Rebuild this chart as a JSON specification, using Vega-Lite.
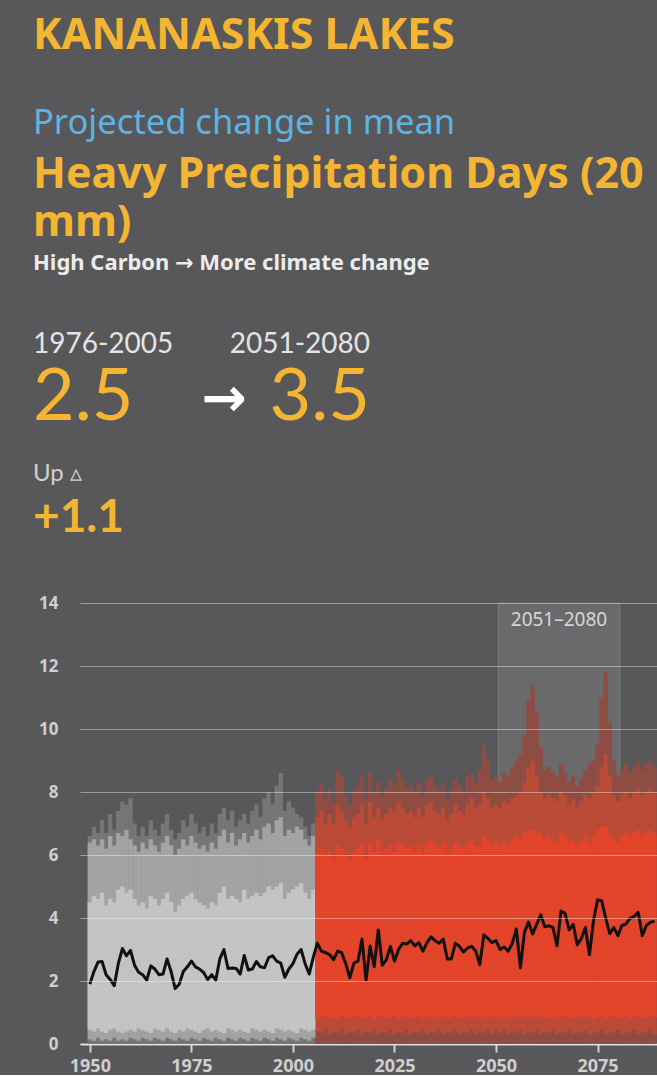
{
  "$schema": "https://vega.github.io/schema/vega-lite/v6.json",
  "background": "#58585a",
  "padding": {"left": 33, "top": 14, "right": 0, "bottom": 0},
  "config": {"view": {"stroke": null}, "font": "Noto Sans"},
  "title": {
    "text": "KANANASKIS LAKES",
    "subtitle": "Projected change in mean",
    "anchor": "start", "frame": "bounds", "orient": "top",
    "font": "Noto Sans", "fontSize": 43, "fontWeight": "bold", "color": "#f4b532",
    "subtitleFont": "Noto Sans", "subtitleFontSize": 34.5, "subtitleFontWeight": "normal", "subtitleColor": "#5cb4e4",
    "subtitlePadding": 49, "offset": 14
  },
  "spacing": 28,
  "vconcat": [
    {
      "width": 290, "height": 67,
      "title": {
        "text": ["Heavy Precipitation Days (20", "mm)"],
        "subtitle": "High Carbon → More climate change",
        "anchor": "start", "frame": "bounds", "orient": "top",
        "font": "Noto Sans", "fontSize": 43, "lineHeight": 48, "fontWeight": "bold", "color": "#f4b532",
        "subtitleFont": "Noto Sans, DejaVu Sans", "subtitleFontSize": 22, "subtitleFontWeight": "bold", "subtitleColor": "#ececec",
        "subtitlePadding": 8, "offset": 57
      },
      "data": {"values": [
        {"col": "historical", "period": "1976-2005", "value": "2.5"},
        {"col": "projected", "period": "2051-2080", "value": "3.5"}
      ]},
      "layer": [
        {
          "transform": [{"filter": "datum.col === 'historical'"}],
          "mark": {"type": "text", "align": "left", "baseline": "alphabetic", "font": "Lato", "fontSize": 28, "color": "#e4e4e4"},
          "encoding": {
            "x": {"field": "col", "type": "nominal", "scale": {"type": "point", "domain": ["historical", "arrow", "projected"], "range": [-47, 290], "padding": 0}, "axis": null},
            "y": {"datum": "period", "type": "nominal", "scale": {"type": "point", "domain": ["period", "value"], "range": [0, 67], "padding": 0}, "axis": null},
            "text": {"field": "period"}
          }
        },
        {
          "transform": [{"filter": "datum.col === 'projected'"}],
          "mark": {"type": "text", "align": "right", "baseline": "alphabetic", "font": "Lato", "fontSize": 28, "color": "#e4e4e4"},
          "encoding": {
            "x": {"field": "col", "type": "nominal"},
            "y": {"datum": "period", "type": "nominal"},
            "text": {"field": "period"}
          }
        },
        {
          "transform": [{"filter": "datum.col === 'historical'"}],
          "mark": {"type": "text", "align": "left", "baseline": "alphabetic", "font": "Lato", "fontSize": 72, "color": "#f4b532"},
          "encoding": {
            "x": {"field": "col", "type": "nominal"},
            "y": {"datum": "value", "type": "nominal"},
            "text": {"field": "value"}
          }
        },
        {
          "transform": [{"filter": "datum.col === 'projected'"}],
          "mark": {"type": "text", "align": "right", "baseline": "alphabetic", "font": "Lato", "fontSize": 72, "color": "#f4b532"},
          "encoding": {
            "x": {"field": "col", "type": "nominal"},
            "y": {"datum": "value", "type": "nominal"},
            "text": {"field": "value"}
          }
        },
        {
          "data": {"values": [{"col": "arrow", "symbol": "→"}]},
          "mark": {"type": "text", "align": "left", "baseline": "alphabetic", "font": "DejaVu Sans", "fontSize": 54, "fontWeight": "bold", "color": "#ffffff", "dy": -4},
          "encoding": {
            "x": {"field": "col", "type": "nominal"},
            "y": {"datum": "value", "type": "nominal"},
            "text": {"field": "symbol"}
          }
        }
      ]
    },
    {
      "width": 577, "height": 441,
      "title": {
        "text": "Up ▵",
        "subtitle": "+1.1",
        "anchor": "start", "frame": "bounds", "orient": "top",
        "font": "Lato", "fontSize": 24, "fontWeight": "normal", "color": "#cfcfcf",
        "subtitleFont": "Lato", "subtitleFontSize": 46, "subtitleFontWeight": "bold", "subtitleColor": "#f4b532",
        "subtitlePadding": 10, "offset": 53
      },
      "data": {"values": [
        {"year":1950,"scenario":"historical","mean":1.90,"lo2":0.15,"lo":0.45,"hi":4.5,"hi2":6.4,"max":6.6},
        {"year":1951,"scenario":"historical","mean":2.30,"lo2":0.10,"lo":0.40,"hi":4.7,"hi2":6.5,"max":6.9},
        {"year":1952,"scenario":"historical","mean":2.60,"lo2":0.20,"lo":0.50,"hi":4.6,"hi2":6.3,"max":6.7},
        {"year":1953,"scenario":"historical","mean":2.62,"lo2":0.10,"lo":0.40,"hi":4.8,"hi2":6.5,"max":7.1},
        {"year":1954,"scenario":"historical","mean":2.20,"lo2":0.15,"lo":0.35,"hi":4.4,"hi2":6.2,"max":6.7},
        {"year":1955,"scenario":"historical","mean":2.05,"lo2":0.10,"lo":0.45,"hi":4.6,"hi2":6.6,"max":7.3},
        {"year":1956,"scenario":"historical","mean":1.85,"lo2":0.20,"lo":0.50,"hi":4.5,"hi2":6.3,"max":6.8},
        {"year":1957,"scenario":"historical","mean":2.55,"lo2":0.10,"lo":0.40,"hi":4.9,"hi2":6.7,"max":7.4},
        {"year":1958,"scenario":"historical","mean":3.03,"lo2":0.15,"lo":0.35,"hi":5.0,"hi2":6.6,"max":7.7},
        {"year":1959,"scenario":"historical","mean":2.80,"lo2":0.10,"lo":0.40,"hi":4.8,"hi2":6.8,"max":7.6},
        {"year":1960,"scenario":"historical","mean":2.97,"lo2":0.20,"lo":0.45,"hi":4.9,"hi2":6.5,"max":7.8},
        {"year":1961,"scenario":"historical","mean":2.50,"lo2":0.15,"lo":0.40,"hi":4.6,"hi2":6.3,"max":7.0},
        {"year":1962,"scenario":"historical","mean":2.28,"lo2":0.10,"lo":0.50,"hi":4.4,"hi2":6.1,"max":6.6},
        {"year":1963,"scenario":"historical","mean":2.20,"lo2":0.20,"lo":0.45,"hi":4.5,"hi2":6.4,"max":6.9},
        {"year":1964,"scenario":"historical","mean":2.03,"lo2":0.15,"lo":0.40,"hi":4.3,"hi2":6.2,"max":6.6},
        {"year":1965,"scenario":"historical","mean":2.48,"lo2":0.10,"lo":0.35,"hi":4.7,"hi2":6.5,"max":7.1},
        {"year":1966,"scenario":"historical","mean":2.38,"lo2":0.20,"lo":0.50,"hi":4.6,"hi2":6.3,"max":6.8},
        {"year":1967,"scenario":"historical","mean":2.20,"lo2":0.15,"lo":0.45,"hi":4.4,"hi2":6.1,"max":6.6},
        {"year":1968,"scenario":"historical","mean":2.22,"lo2":0.10,"lo":0.40,"hi":4.6,"hi2":6.4,"max":7.0},
        {"year":1969,"scenario":"historical","mean":2.70,"lo2":0.20,"lo":0.50,"hi":4.8,"hi2":6.6,"max":7.3},
        {"year":1970,"scenario":"historical","mean":2.30,"lo2":0.15,"lo":0.40,"hi":4.5,"hi2":6.3,"max":6.8},
        {"year":1971,"scenario":"historical","mean":1.76,"lo2":0.10,"lo":0.35,"hi":4.2,"hi2":6.0,"max":6.5},
        {"year":1972,"scenario":"historical","mean":1.90,"lo2":0.20,"lo":0.45,"hi":4.4,"hi2":6.2,"max":6.7},
        {"year":1973,"scenario":"historical","mean":2.30,"lo2":0.15,"lo":0.40,"hi":4.6,"hi2":6.5,"max":7.1},
        {"year":1974,"scenario":"historical","mean":2.45,"lo2":0.10,"lo":0.50,"hi":4.7,"hi2":6.3,"max":6.9},
        {"year":1975,"scenario":"historical","mean":2.63,"lo2":0.20,"lo":0.45,"hi":4.8,"hi2":6.6,"max":7.3},
        {"year":1976,"scenario":"historical","mean":2.45,"lo2":0.15,"lo":0.40,"hi":4.6,"hi2":6.4,"max":7.0},
        {"year":1977,"scenario":"historical","mean":2.38,"lo2":0.10,"lo":0.35,"hi":4.5,"hi2":6.2,"max":6.7},
        {"year":1978,"scenario":"historical","mean":2.27,"lo2":0.20,"lo":0.45,"hi":4.4,"hi2":6.3,"max":6.9},
        {"year":1979,"scenario":"historical","mean":2.05,"lo2":0.15,"lo":0.50,"hi":4.3,"hi2":6.1,"max":6.6},
        {"year":1980,"scenario":"historical","mean":2.20,"lo2":0.10,"lo":0.40,"hi":4.5,"hi2":6.4,"max":7.0},
        {"year":1981,"scenario":"historical","mean":2.03,"lo2":0.20,"lo":0.45,"hi":4.4,"hi2":6.2,"max":6.7},
        {"year":1982,"scenario":"historical","mean":2.70,"lo2":0.15,"lo":0.40,"hi":4.8,"hi2":6.6,"max":7.3},
        {"year":1983,"scenario":"historical","mean":3.00,"lo2":0.10,"lo":0.35,"hi":5.0,"hi2":6.8,"max":7.5},
        {"year":1984,"scenario":"historical","mean":2.40,"lo2":0.20,"lo":0.50,"hi":4.6,"hi2":6.4,"max":7.1},
        {"year":1985,"scenario":"historical","mean":2.41,"lo2":0.15,"lo":0.45,"hi":4.7,"hi2":6.7,"max":7.4},
        {"year":1986,"scenario":"historical","mean":2.40,"lo2":0.10,"lo":0.40,"hi":4.6,"hi2":6.3,"max":6.9},
        {"year":1987,"scenario":"historical","mean":2.22,"lo2":0.20,"lo":0.45,"hi":4.5,"hi2":6.5,"max":7.1},
        {"year":1988,"scenario":"historical","mean":2.81,"lo2":0.15,"lo":0.40,"hi":4.9,"hi2":6.7,"max":7.3},
        {"year":1989,"scenario":"historical","mean":2.35,"lo2":0.10,"lo":0.35,"hi":4.6,"hi2":6.4,"max":7.0},
        {"year":1990,"scenario":"historical","mean":2.38,"lo2":0.20,"lo":0.50,"hi":4.7,"hi2":6.6,"max":7.4},
        {"year":1991,"scenario":"historical","mean":2.62,"lo2":0.15,"lo":0.45,"hi":4.8,"hi2":6.8,"max":7.6},
        {"year":1992,"scenario":"historical","mean":2.45,"lo2":0.10,"lo":0.40,"hi":4.7,"hi2":6.5,"max":7.2},
        {"year":1993,"scenario":"historical","mean":2.42,"lo2":0.20,"lo":0.45,"hi":4.8,"hi2":6.9,"max":7.8},
        {"year":1994,"scenario":"historical","mean":2.74,"lo2":0.15,"lo":0.40,"hi":5.0,"hi2":7.0,"max":8.0},
        {"year":1995,"scenario":"historical","mean":2.80,"lo2":0.10,"lo":0.35,"hi":4.9,"hi2":6.7,"max":7.6},
        {"year":1996,"scenario":"historical","mean":2.63,"lo2":0.20,"lo":0.50,"hi":5.0,"hi2":7.1,"max":8.2},
        {"year":1997,"scenario":"historical","mean":2.57,"lo2":0.15,"lo":0.45,"hi":5.1,"hi2":7.2,"max":8.6},
        {"year":1998,"scenario":"historical","mean":2.12,"lo2":0.10,"lo":0.40,"hi":4.6,"hi2":6.6,"max":7.4},
        {"year":1999,"scenario":"historical","mean":2.38,"lo2":0.20,"lo":0.45,"hi":4.8,"hi2":6.8,"max":7.7},
        {"year":2000,"scenario":"historical","mean":2.55,"lo2":0.15,"lo":0.40,"hi":4.9,"hi2":6.7,"max":7.5},
        {"year":2001,"scenario":"historical","mean":2.85,"lo2":0.10,"lo":0.35,"hi":5.0,"hi2":6.9,"max":7.3},
        {"year":2002,"scenario":"historical","mean":3.00,"lo2":0.20,"lo":0.50,"hi":5.1,"hi2":6.8,"max":7.2},
        {"year":2003,"scenario":"historical","mean":2.55,"lo2":0.15,"lo":0.45,"hi":4.8,"hi2":6.5,"max":6.9},
        {"year":2004,"scenario":"historical","mean":2.22,"lo2":0.10,"lo":0.40,"hi":4.6,"hi2":6.3,"max":6.6},
        {"year":2005,"scenario":"historical","mean":2.75,"lo2":0.20,"lo":0.45,"hi":4.9,"hi2":6.6,"max":7.0},
        {"year":2006,"scenario":"projected","mean":3.20,"lo2":0.40,"lo":0.80,"hi":6.1,"hi2":7.2,"max":8.0},
        {"year":2007,"scenario":"projected","mean":2.95,"lo2":0.35,"lo":0.85,"hi":6.2,"hi2":7.4,"max":8.3},
        {"year":2008,"scenario":"projected","mean":2.90,"lo2":0.45,"lo":0.90,"hi":6.0,"hi2":7.0,"max":7.8},
        {"year":2009,"scenario":"projected","mean":2.84,"lo2":0.30,"lo":0.80,"hi":6.1,"hi2":7.3,"max":8.1},
        {"year":2010,"scenario":"projected","mean":2.68,"lo2":0.40,"lo":0.85,"hi":5.9,"hi2":7.0,"max":7.7},
        {"year":2011,"scenario":"projected","mean":2.95,"lo2":0.35,"lo":0.80,"hi":6.3,"hi2":7.6,"max":8.7},
        {"year":2012,"scenario":"projected","mean":2.90,"lo2":0.45,"lo":0.90,"hi":6.2,"hi2":7.4,"max":8.5},
        {"year":2013,"scenario":"projected","mean":2.55,"lo2":0.30,"lo":0.85,"hi":6.0,"hi2":7.1,"max":7.9},
        {"year":2014,"scenario":"projected","mean":2.10,"lo2":0.40,"lo":0.80,"hi":5.8,"hi2":6.9,"max":7.6},
        {"year":2015,"scenario":"projected","mean":2.57,"lo2":0.35,"lo":0.90,"hi":6.1,"hi2":7.2,"max":8.0},
        {"year":2016,"scenario":"projected","mean":2.63,"lo2":0.45,"lo":0.85,"hi":6.2,"hi2":7.3,"max":8.2},
        {"year":2017,"scenario":"projected","mean":3.33,"lo2":0.30,"lo":0.80,"hi":6.4,"hi2":7.6,"max":8.5},
        {"year":2018,"scenario":"projected","mean":2.03,"lo2":0.40,"lo":0.85,"hi":5.9,"hi2":7.0,"max":7.8},
        {"year":2019,"scenario":"projected","mean":3.11,"lo2":0.35,"lo":0.90,"hi":6.4,"hi2":7.7,"max":8.6},
        {"year":2020,"scenario":"projected","mean":2.45,"lo2":0.45,"lo":0.80,"hi":6.1,"hi2":7.2,"max":8.0},
        {"year":2021,"scenario":"projected","mean":3.62,"lo2":0.30,"lo":0.85,"hi":6.5,"hi2":7.5,"max":8.3},
        {"year":2022,"scenario":"projected","mean":2.50,"lo2":0.40,"lo":0.90,"hi":6.0,"hi2":7.1,"max":7.9},
        {"year":2023,"scenario":"projected","mean":2.68,"lo2":0.35,"lo":0.80,"hi":6.2,"hi2":7.3,"max":8.1},
        {"year":2024,"scenario":"projected","mean":3.10,"lo2":0.45,"lo":0.85,"hi":6.3,"hi2":7.5,"max":8.4},
        {"year":2025,"scenario":"projected","mean":2.63,"lo2":0.30,"lo":0.90,"hi":6.1,"hi2":7.4,"max":8.2},
        {"year":2026,"scenario":"projected","mean":3.00,"lo2":0.40,"lo":0.80,"hi":6.4,"hi2":7.7,"max":8.7},
        {"year":2027,"scenario":"projected","mean":3.20,"lo2":0.35,"lo":0.85,"hi":6.3,"hi2":7.5,"max":8.4},
        {"year":2028,"scenario":"projected","mean":3.17,"lo2":0.45,"lo":0.90,"hi":6.2,"hi2":7.3,"max":8.1},
        {"year":2029,"scenario":"projected","mean":3.28,"lo2":0.30,"lo":0.80,"hi":6.3,"hi2":7.4,"max":8.2},
        {"year":2030,"scenario":"projected","mean":3.12,"lo2":0.40,"lo":0.85,"hi":6.1,"hi2":7.2,"max":8.0},
        {"year":2031,"scenario":"projected","mean":3.22,"lo2":0.35,"lo":0.90,"hi":6.3,"hi2":7.5,"max":8.3},
        {"year":2032,"scenario":"projected","mean":2.95,"lo2":0.45,"lo":0.80,"hi":6.1,"hi2":7.2,"max":7.9},
        {"year":2033,"scenario":"projected","mean":3.22,"lo2":0.30,"lo":0.85,"hi":6.4,"hi2":7.6,"max":8.4},
        {"year":2034,"scenario":"projected","mean":3.40,"lo2":0.40,"lo":0.90,"hi":6.5,"hi2":7.7,"max":8.5},
        {"year":2035,"scenario":"projected","mean":3.28,"lo2":0.35,"lo":0.80,"hi":6.3,"hi2":7.4,"max":8.2},
        {"year":2036,"scenario":"projected","mean":3.20,"lo2":0.45,"lo":0.85,"hi":6.2,"hi2":7.3,"max":8.0},
        {"year":2037,"scenario":"projected","mean":3.33,"lo2":0.30,"lo":0.90,"hi":6.4,"hi2":7.5,"max":8.3},
        {"year":2038,"scenario":"projected","mean":2.70,"lo2":0.40,"lo":0.80,"hi":6.1,"hi2":7.1,"max":7.8},
        {"year":2039,"scenario":"projected","mean":2.70,"lo2":0.35,"lo":0.85,"hi":6.2,"hi2":7.3,"max":8.1},
        {"year":2040,"scenario":"projected","mean":3.20,"lo2":0.45,"lo":0.90,"hi":6.4,"hi2":7.6,"max":8.4},
        {"year":2041,"scenario":"projected","mean":3.10,"lo2":0.30,"lo":0.80,"hi":6.3,"hi2":7.4,"max":8.2},
        {"year":2042,"scenario":"projected","mean":2.92,"lo2":0.40,"lo":0.85,"hi":6.2,"hi2":7.3,"max":8.0},
        {"year":2043,"scenario":"projected","mean":3.05,"lo2":0.35,"lo":0.90,"hi":6.4,"hi2":7.6,"max":8.5},
        {"year":2044,"scenario":"projected","mean":3.10,"lo2":0.45,"lo":0.80,"hi":6.5,"hi2":7.8,"max":8.6},
        {"year":2045,"scenario":"projected","mean":2.95,"lo2":0.30,"lo":0.85,"hi":6.3,"hi2":7.5,"max":8.3},
        {"year":2046,"scenario":"projected","mean":2.52,"lo2":0.40,"lo":0.90,"hi":6.3,"hi2":7.6,"max":8.7},
        {"year":2047,"scenario":"projected","mean":3.46,"lo2":0.35,"lo":0.80,"hi":6.6,"hi2":8.0,"max":9.5},
        {"year":2048,"scenario":"projected","mean":3.35,"lo2":0.45,"lo":0.85,"hi":6.5,"hi2":7.8,"max":9.0},
        {"year":2049,"scenario":"projected","mean":3.22,"lo2":0.30,"lo":0.90,"hi":6.3,"hi2":7.5,"max":8.4},
        {"year":2050,"scenario":"projected","mean":3.28,"lo2":0.40,"lo":0.80,"hi":6.4,"hi2":7.6,"max":8.5},
        {"year":2051,"scenario":"projected","mean":3.00,"lo2":0.35,"lo":0.85,"hi":6.3,"hi2":7.5,"max":8.3},
        {"year":2052,"scenario":"projected","mean":3.08,"lo2":0.45,"lo":0.90,"hi":6.4,"hi2":7.7,"max":8.6},
        {"year":2053,"scenario":"projected","mean":2.95,"lo2":0.30,"lo":0.80,"hi":6.3,"hi2":7.6,"max":8.5},
        {"year":2054,"scenario":"projected","mean":3.20,"lo2":0.40,"lo":0.85,"hi":6.5,"hi2":7.8,"max":8.8},
        {"year":2055,"scenario":"projected","mean":3.65,"lo2":0.35,"lo":0.90,"hi":6.6,"hi2":7.9,"max":9.0},
        {"year":2056,"scenario":"projected","mean":2.42,"lo2":0.45,"lo":0.80,"hi":6.5,"hi2":8.0,"max":9.2},
        {"year":2057,"scenario":"projected","mean":3.55,"lo2":0.30,"lo":0.85,"hi":6.7,"hi2":8.3,"max":9.8},
        {"year":2058,"scenario":"projected","mean":3.87,"lo2":0.40,"lo":0.90,"hi":6.8,"hi2":8.8,"max":10.9},
        {"year":2059,"scenario":"projected","mean":3.49,"lo2":0.35,"lo":0.80,"hi":6.8,"hi2":9.0,"max":11.4},
        {"year":2060,"scenario":"projected","mean":3.80,"lo2":0.45,"lo":0.85,"hi":6.7,"hi2":8.5,"max":10.5},
        {"year":2061,"scenario":"projected","mean":4.10,"lo2":0.30,"lo":0.90,"hi":6.7,"hi2":8.0,"max":9.4},
        {"year":2062,"scenario":"projected","mean":3.72,"lo2":0.40,"lo":0.80,"hi":6.5,"hi2":7.8,"max":8.7},
        {"year":2063,"scenario":"projected","mean":3.75,"lo2":0.35,"lo":0.85,"hi":6.6,"hi2":7.9,"max":8.8},
        {"year":2064,"scenario":"projected","mean":3.70,"lo2":0.45,"lo":0.90,"hi":6.5,"hi2":7.8,"max":8.6},
        {"year":2065,"scenario":"projected","mean":3.12,"lo2":0.30,"lo":0.80,"hi":6.4,"hi2":7.7,"max":8.5},
        {"year":2066,"scenario":"projected","mean":4.22,"lo2":0.40,"lo":0.85,"hi":6.7,"hi2":8.0,"max":8.9},
        {"year":2067,"scenario":"projected","mean":4.15,"lo2":0.35,"lo":0.90,"hi":6.6,"hi2":7.9,"max":8.6},
        {"year":2068,"scenario":"projected","mean":3.62,"lo2":0.45,"lo":0.80,"hi":6.4,"hi2":7.6,"max":8.3},
        {"year":2069,"scenario":"projected","mean":3.80,"lo2":0.30,"lo":0.85,"hi":6.5,"hi2":7.8,"max":8.5},
        {"year":2070,"scenario":"projected","mean":3.15,"lo2":0.40,"lo":0.90,"hi":6.3,"hi2":7.5,"max":8.2},
        {"year":2071,"scenario":"projected","mean":3.35,"lo2":0.35,"lo":0.80,"hi":6.4,"hi2":7.7,"max":8.4},
        {"year":2072,"scenario":"projected","mean":3.70,"lo2":0.45,"lo":0.85,"hi":6.6,"hi2":7.9,"max":8.7},
        {"year":2073,"scenario":"projected","mean":2.83,"lo2":0.30,"lo":0.90,"hi":6.4,"hi2":7.8,"max":8.9},
        {"year":2074,"scenario":"projected","mean":3.92,"lo2":0.40,"lo":0.80,"hi":6.6,"hi2":8.0,"max":9.0},
        {"year":2075,"scenario":"projected","mean":4.58,"lo2":0.35,"lo":0.85,"hi":6.8,"hi2":8.2,"max":9.5},
        {"year":2076,"scenario":"projected","mean":4.55,"lo2":0.45,"lo":0.90,"hi":6.9,"hi2":8.8,"max":11.0},
        {"year":2077,"scenario":"projected","mean":4.00,"lo2":0.30,"lo":0.80,"hi":6.9,"hi2":9.2,"max":11.8},
        {"year":2078,"scenario":"projected","mean":3.50,"lo2":0.40,"lo":0.85,"hi":6.7,"hi2":8.5,"max":10.2},
        {"year":2079,"scenario":"projected","mean":3.70,"lo2":0.35,"lo":0.90,"hi":6.5,"hi2":7.9,"max":9.0},
        {"year":2080,"scenario":"projected","mean":3.44,"lo2":0.45,"lo":0.80,"hi":6.4,"hi2":7.7,"max":8.5},
        {"year":2081,"scenario":"projected","mean":3.76,"lo2":0.30,"lo":0.85,"hi":6.6,"hi2":7.9,"max":8.7},
        {"year":2082,"scenario":"projected","mean":3.81,"lo2":0.40,"lo":0.90,"hi":6.7,"hi2":8.0,"max":8.9},
        {"year":2083,"scenario":"projected","mean":3.99,"lo2":0.35,"lo":0.80,"hi":6.6,"hi2":7.8,"max":8.6},
        {"year":2084,"scenario":"projected","mean":4.05,"lo2":0.45,"lo":0.85,"hi":6.7,"hi2":8.0,"max":8.8},
        {"year":2085,"scenario":"projected","mean":4.18,"lo2":0.30,"lo":0.90,"hi":6.8,"hi2":8.1,"max":9.0},
        {"year":2086,"scenario":"projected","mean":3.44,"lo2":0.40,"lo":0.80,"hi":6.6,"hi2":7.9,"max":8.7},
        {"year":2087,"scenario":"projected","mean":3.76,"lo2":0.35,"lo":0.85,"hi":6.7,"hi2":8.0,"max":8.9},
        {"year":2088,"scenario":"projected","mean":3.86,"lo2":0.45,"lo":0.90,"hi":6.8,"hi2":8.1,"max":9.0},
        {"year":2089,"scenario":"projected","mean":3.90,"lo2":0.30,"lo":0.85,"hi":6.7,"hi2":8.0,"max":8.8}
      ]},
      "layer": [
        {
          "data": {"values": [{"label": "2051–2080", "start": 2050.5, "end": 2080.5, "mid": 2065.5}]},
          "mark": {"type": "rect", "fill": "#ffffff", "fillOpacity": 0.11, "stroke": "#ffffff", "strokeOpacity": 0.15, "strokeWidth": 1},
          "encoding": {
            "x": {"field": "start", "type": "quantitative", "scale": {"domain": [1948.8, 2088.4], "nice": false, "zero": false},
              "axis": {"values": [1950, 1975, 2000, 2025, 2050, 2075], "format": "d", "title": null, "grid": false,
                "domainColor": "#d4d4d4", "domainWidth": 2, "tickColor": "#d4d4d4", "tickWidth": 2, "tickSize": 8,
                "labelColor": "#cfcfcf", "labelFont": "Noto Sans", "labelFontSize": 18, "labelFontWeight": "bold", "labelPadding": 5}},
            "x2": {"field": "end"},
            "y": {"datum": 14, "type": "quantitative", "scale": {"domain": [0, 14], "nice": false},
              "axis": {"values": [0, 2, 4, 6, 8, 10, 12, 14], "title": null, "domain": false, "ticks": false, "grid": true,
                "gridColor": "#ffffff", "gridOpacity": 0.4, "gridWidth": 1.2, "labelColor": "#cfcfcf", "labelFont": "Noto Sans",
                "labelFontSize": 17, "labelFontWeight": "bold", "labelPadding": 22, "minExtent": 47, "zindex": 1}},
            "y2": {"datum": 0}
          }
        },
        {
          "mark": {"type": "bar", "width": 4.4, "clip": true},
          "encoding": {
            "x": {"field": "year", "type": "quantitative"},
            "y": {"field": "max", "type": "quantitative"},
            "y2": {"datum": 0},
            "color": {"condition": {"test": "datum.scenario === 'historical'", "value": "#767676"}, "value": "#8e4c42"}
          }
        },
        {
          "mark": {"type": "bar", "width": 4.4, "clip": true},
          "encoding": {
            "x": {"field": "year", "type": "quantitative"},
            "y": {"field": "hi2", "type": "quantitative"},
            "y2": {"field": "lo2"},
            "color": {"condition": {"test": "datum.scenario === 'historical'", "value": "#a3a3a3"}, "value": "#bb4a37"}
          }
        },
        {
          "mark": {"type": "bar", "width": 4.4, "clip": true},
          "encoding": {
            "x": {"field": "year", "type": "quantitative"},
            "y": {"field": "hi", "type": "quantitative"},
            "y2": {"field": "lo"},
            "color": {"condition": {"test": "datum.scenario === 'historical'", "value": "#c4c4c4"}, "value": "#e3442a"}
          }
        },
        {
          "data": {"values": [{"label": "2051–2080", "start": 2050.5, "end": 2080.5, "mid": 2065.5}]},
          "mark": {"type": "text", "align": "center", "baseline": "middle", "font": "Noto Sans", "fontSize": 19, "color": "#d6d6d6"},
          "encoding": {
            "x": {"field": "mid", "type": "quantitative"},
            "y": {"datum": 13.45},
            "text": {"field": "label"}
          }
        },
        {
          "mark": {"type": "line", "color": "#111111", "strokeWidth": 3, "strokeJoin": "round", "clip": true},
          "encoding": {
            "x": {"field": "year", "type": "quantitative"},
            "y": {"field": "mean", "type": "quantitative"}
          }
        }
      ]
    }
  ]
}
